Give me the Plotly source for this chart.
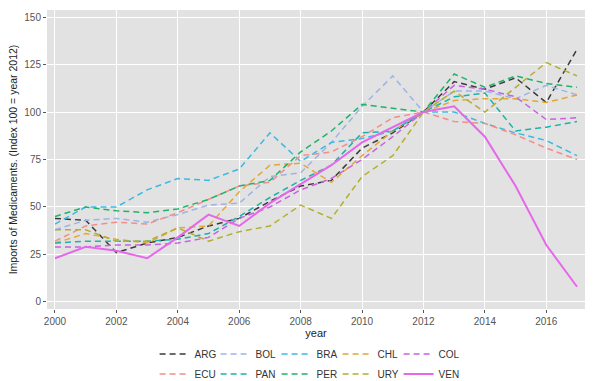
import plotly.graph_objects as go

years = list(range(2000, 2018))

countries = ["ARG", "BOL", "BRA", "CHL", "COL", "ECU", "PAN", "PER", "URY", "VEN"]

ARG = [44, 43, 26, 31, 34, 40, 44, 53, 61, 64, 81, 89, 100, 116, 112, 118, 105, 133]
BOL = [38, 43, 44, 42, 46, 51, 52, 66, 68, 84, 103, 119, 100, 111, 111, 107, 114, 109]
BRA = [41, 50, 50, 59, 65, 64, 70, 89, 74, 84, 86, 90, 100, 100, 94, 89, 85, 77]
CHL = [31, 36, 33, 31, 39, 40, 58, 72, 73, 63, 77, 90, 100, 106, 107, 107, 105, 109]
COL = [29, 29, 30, 30, 31, 34, 44, 50, 59, 65, 75, 87, 100, 114, 112, 108, 96, 97]
ECU = [32, 40, 42, 41, 47, 54, 61, 63, 77, 79, 87, 97, 100, 95, 94, 88, 81, 75]
PAN = [31, 32, 32, 32, 33, 36, 45, 55, 64, 72, 89, 90, 100, 108, 110, 90, 92, 95]
PER = [45, 50, 48, 47, 49, 54, 61, 64, 79, 90, 104, 102, 100, 120, 113, 119, 115, 113]
URY = [38, 38, 32, 32, 39, 32, 37, 40, 51, 44, 66, 77, 100, 111, 100, 113, 126, 119]
VEN = [23, 29, 27, 23, 34, 46, 40, 52, 62, 72, 84, 92, 100, 103, 87, 61, 30, 8]

series = [ARG, BOL, BRA, CHL, COL, ECU, PAN, PER, URY, VEN]
colors = ["#3a3a3a", "#9fb3ea", "#3cb9e3", "#e2a834", "#c862e2",
          "#f28e86", "#1ab3ab", "#1eb36a", "#b3ae2e", "#e668ea"]

x_ticks = [2000, 2002, 2004, 2006, 2008, 2010, 2012, 2014, 2016]
y_ticks = [0, 25, 50, 75, 100, 125, 150]

FONT = "Liberation Sans, Arial, sans-serif"

fig = go.Figure()
for i, (name, vals, col) in enumerate(zip(countries, series, colors)):
    solid = name == "VEN"
    fig.add_trace(go.Scatter(
        x=years, y=vals, mode="lines", name=name,
        line=dict(color=col, width=2 if solid else 1.5,
                  dash="solid" if solid else "6px,4px"),
        legend="legend" if i < 5 else "legend2",
    ))

legend_common = dict(
    orientation="h", xanchor="left", yanchor="top",
    entrywidth=16, entrywidthmode="pixels",
    font=dict(family=FONT, size=10, color="#333333"),
    bgcolor="rgba(0,0,0,0)", tracegroupgap=0,
)

fig.update_layout(
    width=600, height=381,
    margin=dict(l=47, r=15, t=10, b=72, autoexpand=False),
    paper_bgcolor="white",
    plot_bgcolor="#e2e2e2",
    font=dict(family=FONT, size=10, color="#555555"),
    legend=dict(x=0.2, y=-0.102, **legend_common),
    legend2=dict(x=0.2, y=-0.169, **legend_common),
    xaxis=dict(
        range=[1999.74, 2017.26], tickvals=x_ticks,
        ticktext=[str(v) for v in x_ticks],
        showgrid=True, gridcolor="white", gridwidth=1.2,
        zeroline=False, ticks="outside", ticklen=3, tickcolor="#555555",
        tickfont=dict(family=FONT, size=10, color="#555555"),
        title=dict(text="year", standoff=2,
                   font=dict(family=FONT, size=11, color="#222222")),
        automargin=False,
    ),
    yaxis=dict(
        range=[-3.7, 153.7], tickvals=y_ticks,
        ticktext=[str(v) for v in y_ticks],
        showgrid=True, gridcolor="white", gridwidth=1.2,
        zeroline=False, ticks="outside", ticklen=3, tickcolor="#555555",
        tickfont=dict(family=FONT, size=10, color="#555555"),
        title=dict(text="Imports of Medicaments. (Index 100 = year 2012)", standoff=4,
                   font=dict(family=FONT, size=10.5, color="#222222")),
        automargin=False,
    ),
)

fig.write_html("out.html", config={"displayModeBar": False},
               post_script="document.body.style.margin='0';")
